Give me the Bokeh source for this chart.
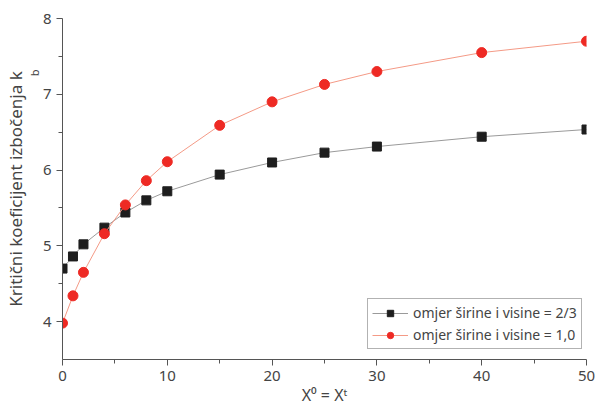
from bokeh.plotting import figure
from bokeh.models import Range1d, Legend, LegendItem, Title, FixedTicker
from bokeh.embed import file_html
from bokeh.resources import INLINE

x_vals = [0, 1, 2, 4, 6, 8, 10, 15, 20, 25, 30, 40, 50]
ratio_2_3 = [4.70, 4.86, 5.02, 5.24, 5.44, 5.60, 5.72, 5.94, 6.10, 6.23, 6.31, 6.44, 6.535]
ratio_1_0 = [3.98, 4.34, 4.65, 5.16, 5.54, 5.86, 6.11, 6.59, 6.90, 7.13, 7.30, 7.55, 7.70]
label_2_3 = "omjer širine i visine = 2/3"
label_1_0 = "omjer širine i visine = 1,0"
x_ticks = [0, 10, 20, 30, 40, 50]
y_ticks = [4, 5, 6, 7, 8]

FONT = "Noto Sans"
TXT = "#444444"

p = figure(width=595, height=408, output_backend="svg", toolbar_location=None,
           x_range=Range1d(0, 50), y_range=Range1d(3.5, 8),
           min_border_left=62, min_border_right=9, min_border_top=18, min_border_bottom=48)
p.outline_line_color = None
p.xgrid.visible = False
p.ygrid.visible = False

for ax in (p.xaxis[0], p.yaxis[0]):
    ax.axis_line_color = "#555555"
    ax.major_tick_line_color = "#555555"
    ax.minor_tick_line_color = "#555555"
    ax.major_tick_out = 6
    ax.major_tick_in = 0
    ax.minor_tick_out = 4
    ax.minor_tick_in = 0
    ax.major_label_text_font = FONT
    ax.major_label_text_font_size = "15px"
    ax.major_label_text_color = TXT
    ax.axis_label_text_font = FONT
    ax.axis_label_text_font_size = "16px"
    ax.axis_label_text_font_style = "normal"
    ax.axis_label_text_color = TXT

p.xaxis.ticker = FixedTicker(ticks=x_ticks, minor_ticks=[5, 15, 25, 35, 45])
p.yaxis.ticker = FixedTicker(ticks=y_ticks, minor_ticks=[4.5, 5.5, 6.5, 7.5])
p.xaxis.axis_label = "X⁰ = Xᵗ"
p.xaxis.axis_label_standoff = 0

# y-axis title made of two parts: main text and the subscript "b"
t_sub = Title(text="b", align="right", vertical_align="bottom", offset=43, standoff=-20,
              padding=8,
              text_font=FONT, text_font_size="11px", text_font_style="normal", text_color=TXT)
t_main = Title(text="Kritični koeficijent izbočenja k", align="center", vertical_align="bottom",
               standoff=0, text_font=FONT, text_font_size="17px", text_font_style="normal",
               text_color=TXT)
p.left = [p.yaxis[0], t_sub, t_main]

l1 = p.line(x_vals, ratio_2_3, line_color="#9a9a9a", line_width=1)
s1 = p.scatter(x_vals, ratio_2_3, marker="square", size=9, fill_color="#1e1e1e", line_color="#1e1e1e")
l2 = p.line(x_vals, ratio_1_0, line_color="#f49a86", line_width=1)
s2 = p.scatter(x_vals, ratio_1_0, marker="circle", size=10, fill_color="#ee2a24", line_color="#ee2a24")

legend = Legend(items=[LegendItem(label=label_2_3, renderers=[l1, s1]),
                       LegendItem(label=label_1_0, renderers=[l2, s2])],
                location=(305, 10), border_line_color="#666666", border_line_width=1,
                label_text_font=FONT, label_text_font_size="14px", label_text_color=TXT,
                glyph_width=36, glyph_height=16, spacing=3, padding=4, margin=0,
                label_standoff=5, background_fill_alpha=1)
p.add_layout(legend, "center")

open("out.html", "w").write(file_html(p, INLINE))
